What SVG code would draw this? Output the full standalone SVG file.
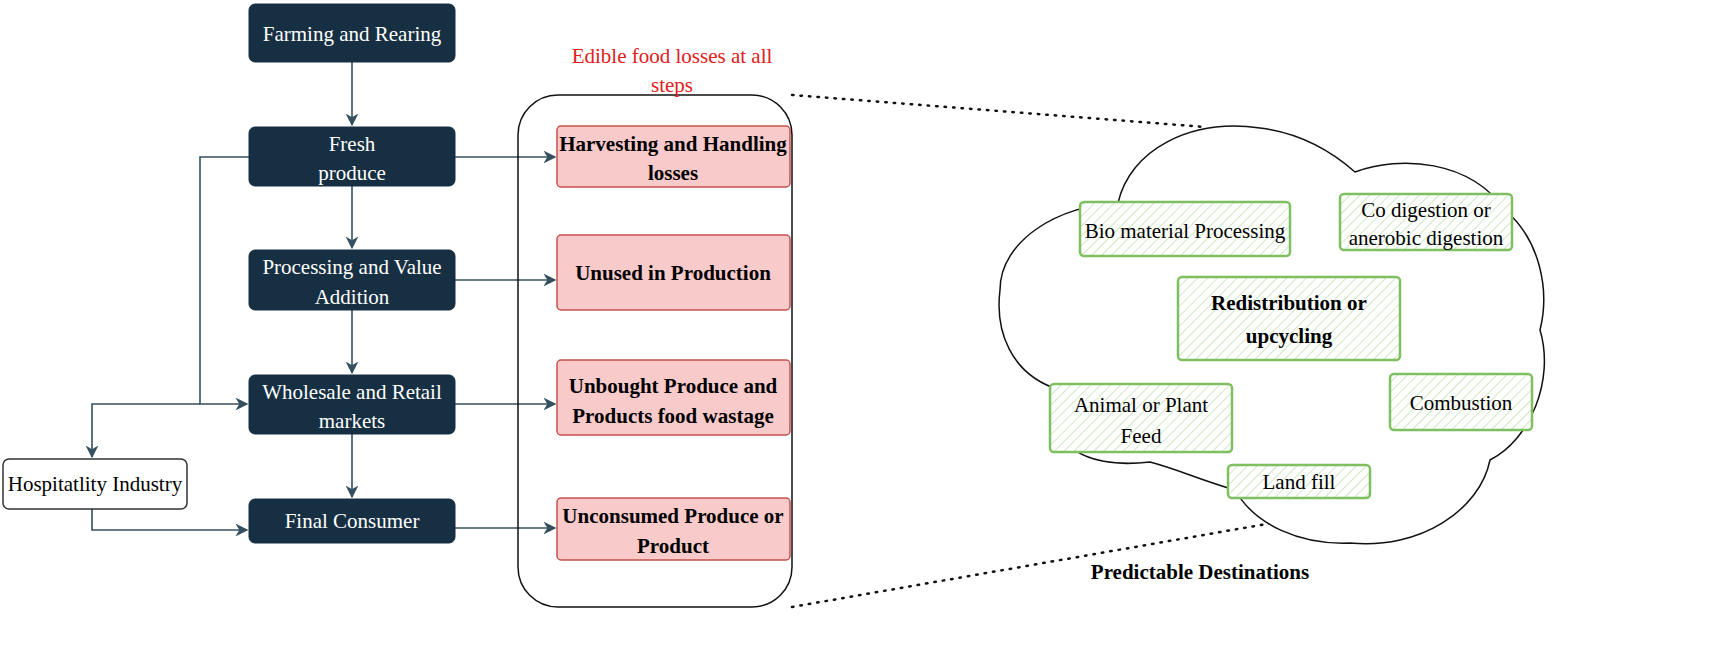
<svg xmlns="http://www.w3.org/2000/svg" width="1713" height="667" viewBox="0 0 1713 667">
<style>
text{font-family:"Liberation Serif","Times New Roman",serif;font-size:21px;text-anchor:middle}
.dk{fill:#172f42;stroke:#172f42}
.wt{fill:#fff}
.pk{fill:#f8caca;stroke:#c8504f;stroke-width:1.5}
.bd{font-weight:bold}
.gr{fill:url(#h);stroke:#7fbf5f;stroke-width:2.5}
.cn{fill:none;stroke:#34505f;stroke-width:1.6}
</style>
<defs>
<marker id="a" viewBox="0 0 10 10" refX="9" refY="5" markerWidth="8" markerHeight="8" orient="auto"><path d="M0,0L10,5L0,10L3,5z" fill="#34505f"/></marker>
<pattern id="h" width="7" height="7" patternUnits="userSpaceOnUse" patternTransform="rotate(45)"><rect width="7" height="7" fill="#fff"/><line x1="0" y1="0" x2="0" y2="7" stroke="#cfe8c4" stroke-width="2"/></pattern>
</defs>
<rect width="1713" height="667" fill="#fff"/>
<g id="connectors">
<path class="cn" d="M352,62V125" marker-end="url(#a)"/>
<path class="cn" d="M352,186V248" marker-end="url(#a)"/>
<path class="cn" d="M352,310V373" marker-end="url(#a)"/>
<path class="cn" d="M352,434V497" marker-end="url(#a)"/>
<path class="cn" d="M249,157H200V404H247" marker-end="url(#a)"/>
<path class="cn" d="M200,404H92V457" marker-end="url(#a)"/>
<path class="cn" d="M92,509V530H247" marker-end="url(#a)"/>
<path class="cn" d="M455,157H555" marker-end="url(#a)"/>
<path class="cn" d="M455,280H555" marker-end="url(#a)"/>
<path class="cn" d="M455,404H555" marker-end="url(#a)"/>
<path class="cn" d="M455,528H555" marker-end="url(#a)"/>
<path d="M792,95L1205,127M792,607L1295,519" fill="none" stroke="#111" stroke-width="2.5" stroke-dasharray="1.5,7" stroke-linecap="round"/>
</g>
<g id="farming"><rect class="dk" x="249" y="4" width="206" height="58" rx="6"/><text class="wt" x="352" y="41">Farming and Rearing</text></g>
<g id="fresh"><rect class="dk" x="249" y="127" width="206" height="59" rx="6"/><text class="wt" x="352" y="151">Fresh</text><text class="wt" x="352" y="180">produce</text></g>
<g id="processing"><rect class="dk" x="249" y="250" width="206" height="60" rx="6"/><text class="wt" x="352" y="274">Processing and Value</text><text class="wt" x="352" y="304">Addition</text></g>
<g id="wholesale"><rect class="dk" x="249" y="375" width="206" height="59" rx="6"/><text class="wt" x="352" y="399">Wholesale and Retail</text><text class="wt" x="352" y="428">markets</text></g>
<g id="final"><rect class="dk" x="249" y="499" width="206" height="44" rx="6"/><text class="wt" x="352" y="528">Final Consumer</text></g>
<g id="hospitality"><rect x="3" y="459" width="184" height="50" rx="6" fill="#fff" stroke="#333" stroke-width="1.5"/><text x="95" y="491">Hospitatlity Industry</text></g>
<g id="losses">
<rect x="518" y="95" width="274" height="512" rx="40" fill="none" stroke="#111" stroke-width="1.5"/>
<text x="672" y="63" fill="#e02020" font-size="20">Edible food losses at all</text>
<text x="672" y="92" fill="#e02020" font-size="20">steps</text>
</g>
<g id="harvesting"><rect class="pk" x="557" y="126" width="233" height="61" rx="4"/><text class="bd" x="673" y="151">Harvesting and Handling</text><text class="bd" x="673" y="180">losses</text></g>
<g id="unused"><rect class="pk" x="557" y="235" width="233" height="75" rx="4"/><text class="bd" x="673" y="280">Unused in Production</text></g>
<g id="unbought"><rect class="pk" x="557" y="360" width="233" height="75" rx="4"/><text class="bd" x="673" y="393">Unbought Produce and</text><text class="bd" x="673" y="423">Products food wastage</text></g>
<g id="unconsumed"><rect class="pk" x="557" y="498" width="233" height="62" rx="4"/><text class="bd" x="673" y="523">Unconsumed Produce or</text><text class="bd" x="673" y="553">Product</text></g>
<g id="cloud">
<path d="M1118,203C1130,150 1190,118 1260,128C1300,133 1330,150 1355,172C1400,155 1470,160 1505,210C1540,240 1550,290 1540,330C1555,380 1530,440 1490,460C1480,510 1420,550 1350,543C1300,545 1255,525 1235,490C1200,480 1180,470 1150,462C1080,470 1040,440 1060,390C1010,375 995,330 1000,290C1000,240 1060,205 1118,203Z" fill="#fff" stroke="#111" stroke-width="1.5"/>
</g>
<g id="bio"><rect class="gr" x="1080" y="202" width="210" height="54" rx="4"/><text x="1185" y="238">Bio material Processing</text></g>
<g id="codig"><rect class="gr" x="1340" y="194" width="172" height="56" rx="4"/><text x="1426" y="217">Co digestion or</text><text x="1426" y="245">anerobic digestion</text></g>
<g id="redis"><rect class="gr" x="1178" y="277" width="222" height="83" rx="4"/><text class="bd" x="1289" y="310">Redistribution or</text><text class="bd" x="1289" y="343">upcycling</text></g>
<g id="animal"><rect class="gr" x="1050" y="384" width="182" height="68" rx="4"/><text x="1141" y="412">Animal or Plant</text><text x="1141" y="443">Feed</text></g>
<g id="combustion"><rect class="gr" x="1390" y="374" width="142" height="56" rx="4"/><text x="1461" y="410">Combustion</text></g>
<g id="landfill"><rect class="gr" x="1228" y="465" width="142" height="33" rx="4"/><text x="1299" y="489">Land fill</text></g>
<text class="bd" x="1200" y="579">Predictable  Destinations</text>
</svg>
